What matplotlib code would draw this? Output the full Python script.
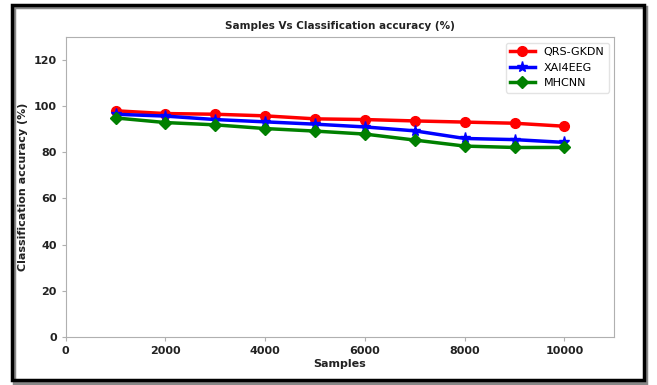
import matplotlib
matplotlib.use("Agg")
import matplotlib.pyplot as plt
from matplotlib.patches import Rectangle

samples = [1000, 2000, 3000, 4000, 5000, 6000, 7000, 8000, 9000, 10000]
qrs_gkdn = [98.0, 96.8, 96.5, 95.8, 94.5, 94.2, 93.6, 93.1, 92.6, 91.3]
xai4eeg = [96.5, 95.7, 94.2, 93.2, 92.2, 91.0, 89.3, 86.0, 85.5, 84.3]
mhcnn = [94.9, 92.9, 91.9, 90.3, 89.2, 87.9, 85.3, 82.7, 82.1, 82.1]

fig = plt.figure(figsize=(6.57, 3.85), dpi=100)
ax = fig.add_axes([0.100, 0.125, 0.835, 0.779])

ax.plot(samples, qrs_gkdn, color="red", marker="o", markersize=7, linewidth=2.5, label="QRS-GKDN")
ax.plot(samples, xai4eeg, color="blue", marker="*", markersize=8, linewidth=2.5, label="XAI4EEG")
ax.plot(samples, mhcnn, color="green", marker="D", markersize=6.5, linewidth=2.5, label="MHCNN")

ax.set_xlim(0, 11000)
ax.set_ylim(0, 130)
ax.set_xticks([0, 2000, 4000, 6000, 8000, 10000])
ax.set_yticks([0, 20, 40, 60, 80, 100, 120])

for s in ax.spines.values():
    s.set_color("#b0b0b0")
ax.tick_params(colors="#b0b0b0", labelcolor="#222222", labelsize=8, length=3)
for lab in ax.get_xticklabels() + ax.get_yticklabels():
    lab.set_fontweight("bold")

ax.set_xlabel("Samples", fontsize=8, fontweight="bold", color="#222222", labelpad=2)
ax.set_ylabel("Classification accuracy (%)", fontsize=8, fontweight="bold", color="#222222")
ax.set_title("Samples Vs Classification accuracy (%)", fontsize=7.5, fontweight="bold", color="#222222", pad=6)

leg = ax.legend(loc="upper right", fontsize=8, frameon=True, handlelength=2.2)
leg.get_frame().set_edgecolor("#dddddd")

# outer frame with a slight shadow
fig.patches.append(Rectangle((0.022, 0.004), 0.962, 0.978, transform=fig.transFigure,
                             fill=False, edgecolor="#888888", linewidth=2.5, zorder=0))
fig.patches.append(Rectangle((0.018, 0.012), 0.962, 0.975, transform=fig.transFigure,
                             fill=False, edgecolor="black", linewidth=2.5, zorder=1))

fig.savefig("out.png", dpi=100)
